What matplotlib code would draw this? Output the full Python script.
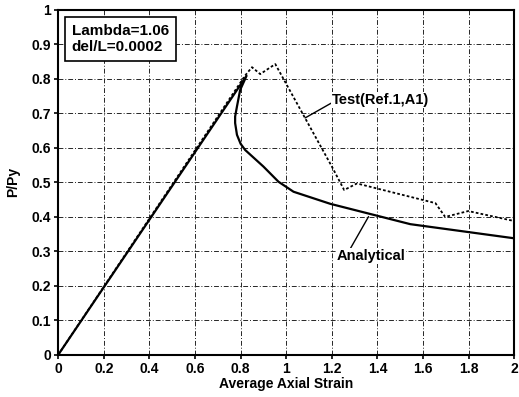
import matplotlib
matplotlib.use("Agg")
import matplotlib.pyplot as plt
from matplotlib.ticker import FuncFormatter

plt.rcParams['font.family'] = ['Liberation Sans', 'DejaVu Sans']
plt.rcParams['font.weight'] = 'bold'

# analytical load-strain curve
ana_x = [0.0, 0.826, 0.798, 0.784, 0.776, 0.776, 0.784, 0.80, 0.82, 0.90, 0.966, 1.032, 1.193, 1.544, 2.0]
ana_y = [0.0, 0.809, 0.768, 0.72, 0.691, 0.672, 0.638, 0.612, 0.594, 0.546, 0.502, 0.473, 0.438, 0.379, 0.338]

# test data (Ref.1, A1)
test_x = [0.0, 0.82, 0.85, 0.886, 0.952, 1.2, 1.254, 1.31, 1.654, 1.697, 1.798, 2.0]
test_y = [0.0, 0.81, 0.834, 0.814, 0.843, 0.546, 0.478, 0.497, 0.44, 0.40, 0.417, 0.388]

fig = plt.figure(figsize=(5.19, 3.97), dpi=100)
ax = fig.add_axes([0.112, 0.106, 0.879, 0.869])

ax.plot(ana_x, ana_y, color='black', lw=1.6, zorder=3)
ax.plot(test_x, test_y, color='black', lw=1.3, ls=(0, (1.5, 1.2)), zorder=3)

ax.set_xlim(0, 2)
ax.set_ylim(0, 1)
ax.set_xticks([i * 0.2 for i in range(11)])
ax.set_yticks([i * 0.1 for i in range(11)])
fmt = FuncFormatter(lambda v, p: '%g' % round(v, 2))
ax.xaxis.set_major_formatter(fmt)
ax.yaxis.set_major_formatter(fmt)
ax.tick_params(labelsize=10, length=3, width=1.2, pad=2)
for lab in ax.get_xticklabels() + ax.get_yticklabels():
    lab.set_fontweight('bold')

ax.grid(True, color='0.15', lw=0.7, ls=(0, (5, 2, 1, 2)))
for s in ax.spines.values():
    s.set_linewidth(1.5)

ax.set_xlabel('Average Axial Strain', fontsize=10, fontweight='bold', labelpad=1)
ax.set_ylabel('P/Py', fontsize=10, fontweight='bold', labelpad=8)

ax.text(0.03, 0.96, 'Lambda=1.06\ndel/L=0.0002', transform=ax.transAxes,
        fontsize=11, fontweight='bold', va='top', ha='left', linespacing=1.25,
        bbox=dict(boxstyle='square,pad=0.45', fc='white', ec='black', lw=1.2), zorder=5)

ax.annotate('Test(Ref.1,A1)', xy=(1.083, 0.687), xytext=(1.2, 0.739),
            fontsize=10.5, fontweight='bold', va='center', ha='left',
            arrowprops=dict(arrowstyle='-', color='black', lw=1.0, shrinkA=0, shrinkB=0,
                            relpos=(0, 0.3)),
            bbox=dict(fc='white', ec='none', pad=0.5))
ax.annotate('Analytical', xy=(1.361, 0.401), xytext=(1.22, 0.287),
            fontsize=10.5, fontweight='bold', va='center', ha='left',
            arrowprops=dict(arrowstyle='-', color='black', lw=1.0, shrinkA=0, shrinkB=0,
                            relpos=(0.2, 1.0)),
            bbox=dict(fc='white', ec='none', pad=0.5))

fig.savefig('out.png', dpi=100)
